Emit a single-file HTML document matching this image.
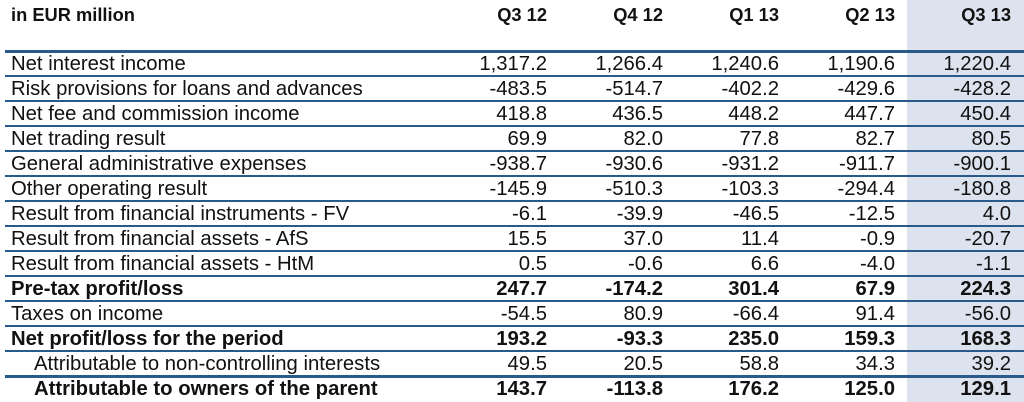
<!DOCTYPE html>
<html><head><meta charset="utf-8"><style>
body{margin:0;width:1024px;height:402px;background:#fff;overflow:hidden;position:relative;font-family:"Liberation Sans",Arial,sans-serif;color:#111}
.shade{position:absolute;left:907px;top:0;width:117px;height:402px;background:#dde3ee}
.line{position:absolute;left:5px;right:0;height:1.5px;background:#2a5a8a}
.t{position:absolute;white-space:nowrap;font-size:20.3px;line-height:24px}
.n{text-align:right;width:120px}
.b{font-weight:bold}
.h{font-weight:bold;font-size:18.3px}
</style></head><body>
<div class="shade"></div>
<div id="tbl"></div>
<script>
const labels=["Net interest income","Risk provisions for loans and advances","Net fee and commission income","Net trading result","General administrative expenses","Other operating result","Result from financial instruments - FV","Result from financial assets - AfS","Result from financial assets - HtM","Pre-tax profit/loss","Taxes on income","Net profit/loss for the period","Attributable to non-controlling interests","Attributable to owners of the parent"];
const bold=[0,0,0,0,0,0,0,0,0,1,0,1,0,1];
const indent=[0,0,0,0,0,0,0,0,0,0,0,0,1,1];
const periods=["Q3 12","Q4 12","Q1 13","Q2 13","Q3 13"];
const vals=[
["1,317.2","-483.5","418.8","69.9","-938.7","-145.9","-6.1","15.5","0.5","247.7","-54.5","193.2","49.5","143.7"],
["1,266.4","-514.7","436.5","82.0","-930.6","-510.3","-39.9","37.0","-0.6","-174.2","80.9","-93.3","20.5","-113.8"],
["1,240.6","-402.2","448.2","77.8","-931.2","-103.3","-46.5","11.4","6.6","301.4","-66.4","235.0","58.8","176.2"],
["1,190.6","-429.6","447.7","82.7","-911.7","-294.4","-12.5","-0.9","-4.0","67.9","91.4","159.3","34.3","125.0"],
["1,220.4","-428.2","450.4","80.5","-900.1","-180.8","4.0","-20.7","-1.1","224.3","-56.0","168.3","39.2","129.1"]];
const right=[547,663,779,895,1011];
const tbl=document.getElementById('tbl');
function mk(cls,txt,x,y,w){const d=document.createElement('div');d.className=cls;d.textContent=txt;d.style.left=x+'px';d.style.top=y+'px';if(w)d.style.width=w+'px';tbl.appendChild(d);return d;}
let h=mk('t h','in EUR million',11,3);


periods.forEach((p,i)=>{const d=mk('t h n',p,right[i]-120,3);

});
const hl=document.createElement('div');hl.className='line';hl.style.top='50px';hl.style.height='3px';tbl.appendChild(hl);


labels.forEach((l,r)=>{
 const y=52+25*r;
 const c='t'+(bold[r]?' b':'');
 const d=mk(c,l,indent[r]?34:11,y);
 
 
 vals.forEach((col,i)=>{const v=mk(c+' n',col[r],right[i]-120,y);
 
 });
 if(r<13){const ln=document.createElement('div');ln.className='line';ln.style.top=(75+25*r)+'px';if(r==12)ln.style.height='2.5px';tbl.appendChild(ln);
 
 }
});
</script>
</body></html>
